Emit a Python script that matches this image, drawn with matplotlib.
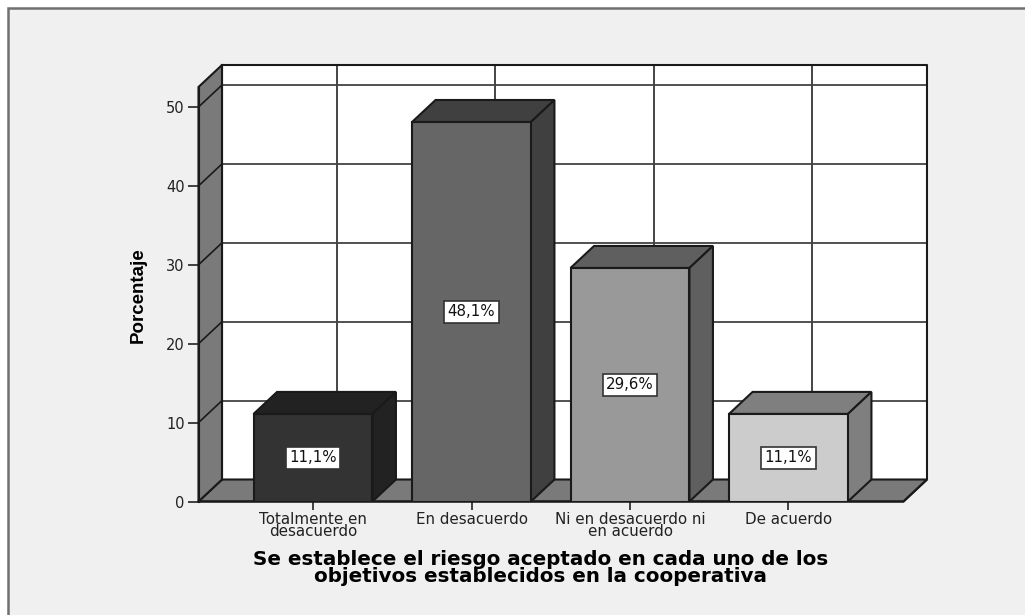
import matplotlib
matplotlib.use("Agg")
import matplotlib.pyplot as plt
from matplotlib.patches import Polygon, Rectangle

categories = ["Totalmente en\ndesacuerdo", "En desacuerdo", "Ni en desacuerdo ni\nen acuerdo", "De acuerdo"]
values = [11.1, 48.1, 29.6, 11.1]
labels = ["11,1%", "48,1%", "29,6%", "11,1%"]
front = ["#333333", "#666666", "#999999", "#cccccc"]
top = ["#222222", "#404040", "#5f5f5f", "#7f7f7f"]
side = ["#222222", "#404040", "#5f5f5f", "#7f7f7f"]
yticks = [0, 10, 20, 30, 40, 50]
xlabel = "Se establece el riesgo aceptado en cada uno de los\nobjetivos establecidos en la cooperativa"
ylabel = "Porcentaje"

W, H = 1025, 615
fig = plt.figure(figsize=(W / 100, H / 100), dpi=100, facecolor="white")
panel = fig.add_axes([0, 0, 1, 1], zorder=0)
panel.set_xlim(0, W); panel.set_ylim(H, 0); panel.axis("off")
panel.add_patch(Rectangle((8, 8), W + 20, H + 20, fc="#f0f0f0", ec="#707070", lw=1.8))

px_l, px_r, px_b, px_t = 198.5, 927, 501.5, 65
unit_x, unit_y = 158.5, 7.89
x0 = 313
ax = fig.add_axes([px_l / W, 1 - px_b / H, (px_r - px_l) / W, (px_b - px_t) / H], zorder=1)
ax.set_xlim((px_l - x0) / unit_x, (px_r - x0) / unit_x)
ax.set_ylim(0, (px_b - px_t) / unit_y)
ax.patch.set_alpha(0)
dx, dy = 23.5 / unit_x, 22 / unit_y
xl, xr = ax.get_xlim()
yl, yr = ax.get_ylim()
bw = 0.375
EC = "#1a1a1a"
LW = 1.5

# back wall, floor, left wall
ax.add_patch(Rectangle((xl + dx, dy), xr - xl - dx, yr - dy, fc="white", ec="none", zorder=1))
ax.add_patch(Polygon([(xl, 0), (xl + dx, dy), (xr, dy), (xr - dx, 0)], fc="#7a7a7a", ec=EC, lw=LW, zorder=3, clip_on=False))
ax.add_patch(Polygon([(xl, 0), (xl + dx, dy), (xl + dx, yr), (xl, yr - dy)], fc="#7a7a7a", ec=EC, lw=LW, zorder=3, clip_on=False))

# gridlines on the back wall and left wall
for v in yticks[1:]:
    ax.plot([xl + dx, xr], [v + dy, v + dy], color="#333333", lw=1.2, zorder=2)
    ax.plot([xl, xl + dx], [v, v + dy], color=EC, lw=1.2, zorder=4)
for i in range(len(categories)):
    gx = i + dx
    ax.plot([gx, gx], [dy, yr], color="#444444", lw=1.4, zorder=2)
ax.plot([xl + dx, xr, xr, xr - dx, xl], [yr, yr, dy, 0, 0], color=EC, lw=LW, zorder=4, clip_on=False)
ax.plot([xl + dx, xl + dx], [dy, yr], color=EC, lw=LW, zorder=4, clip_on=False)

# bars
for i, v in enumerate(values):
    l, r = i - bw, i + bw
    ax.add_patch(Polygon([(l, v), (l + dx, v + dy), (r + dx, v + dy), (r, v)], fc=top[i], ec=EC, lw=LW, zorder=5))
    ax.add_patch(Polygon([(r, 0), (r + dx, dy), (r + dx, v + dy), (r, v)], fc=side[i], ec=EC, lw=LW, zorder=5))
    ax.add_patch(Rectangle((l, 0), 2 * bw, v, fc=front[i], ec=EC, lw=LW, zorder=6))
    ax.text(i, v / 2, labels[i], ha="center", va="center", fontsize=10.8, color="#111111", zorder=7,
            bbox=dict(boxstyle="square,pad=0.22", fc="white", ec="#333333", lw=1.2))

for s in ["top", "right", "bottom"]:
    ax.spines[s].set_visible(False)
ax.spines["left"].set_bounds(0, yr - dy)
ax.spines["left"].set_linewidth(LW)
ax.spines["left"].set_color(EC)
ax.spines["left"].set_zorder(8)
ax.set_yticks(yticks)
ax.set_xticks(range(len(categories)))
ax.set_xticklabels(categories, linespacing=0.72, fontsize=10.9, color="#222222")
ax.tick_params(axis="y", length=8, width=1.2, color="#222222", labelsize=10.5, labelcolor="#222222", pad=2)
ax.tick_params(axis="x", length=6, width=1.2, color="#222222", pad=1.5)

panel.text(541, 568, xlabel, ha="center", va="center", fontsize=14.3, fontweight="bold",
           linespacing=0.85, color="black", zorder=9, family="DejaVu Sans")
panel.text(138, 295, ylabel, rotation=90, ha="center", va="center", fontsize=13.5, fontweight="bold",
           color="black", family=["Liberation Sans Narrow", "Liberation Sans"])

fig.savefig("out.png", dpi=100, facecolor=fig.get_facecolor())
